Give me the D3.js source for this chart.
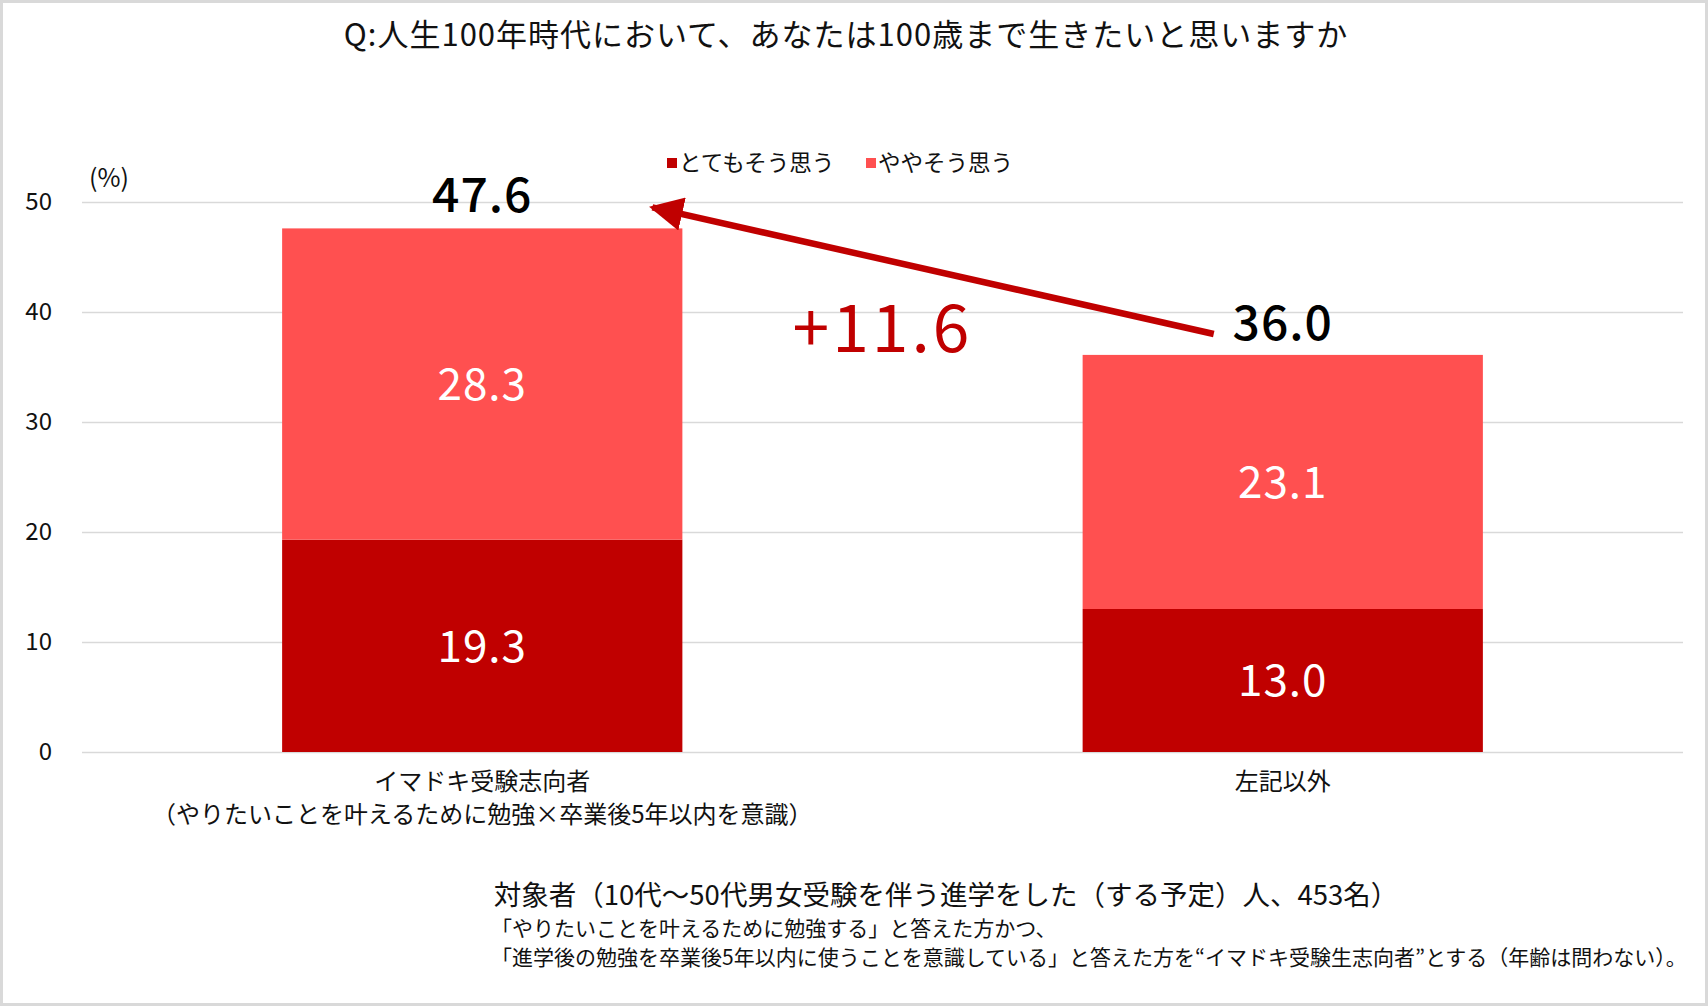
<!DOCTYPE html>
<html>
<head>
<meta charset="utf-8">
<script src="https://cdn.jsdelivr.net/npm/d3@7"></script>
<style>
  body { margin: 0; background: #fff; }
  svg { display: block; font-family: "Noto Sans CJK JP", "Noto Sans", sans-serif; }
</style>
</head>
<body>
<div id="chartContainer"></div>
<script>
// Chart data
const categories = ["イマドキ受験志向者", "左記以外"];
const categorySubLabels = ["（やりたいことを叶えるために勉強×卒業後5年以内を意識）", ""];
const seriesNames = ["とてもそう思う", "ややそう思う"];
const stronglyAgree = [19.3, 13.0];
const somewhatAgree = [28.3, 23.1];
const totals = [47.6, 36.0];
const diffLabel = "+11.6";
const yTicks = [0, 10, 20, 30, 40, 50];
const titleText = "Q:人生100年時代において、あなたは100歳まで生きたいと思いますか";
const footerText = "対象者（10代～50代男女受験を伴う進学をした（する予定）人、453名）";
const noteLines = [
    "「やりたいことを叶えるために勉強する」と答えた方かつ、",
    "「進学後の勉強を卒業後5年以内に使うことを意識している」と答えた方を“イマドキ受験生志向者”とする（年齢は問わない）。"
];

function createChart() {
    const width = 1708;
    const height = 1007;
    const marginTop = 202;
    const marginRight = 25;
    const marginBottom = 255;
    const marginLeft = 82;
    const colors = ["#C00000", "#FF5050"];

    const x = d3.scaleBand()
        .domain(categories)
        .range([marginLeft, width - marginRight])
        .paddingInner(0.5)
        .paddingOuter(0.25);

    const y = d3.scaleLinear()
        .domain([0, 50])
        .range([height - marginBottom, marginTop]);

    const svg = d3.create("svg")
        .attr("viewBox", [0, 0, width, height])
        .attr("width", width)
        .attr("height", height);

    // outer frame
    svg.append("rect")
        .attr("x", 1.5).attr("y", 1.5)
        .attr("width", width - 3).attr("height", height - 4)
        .attr("fill", "#fff")
        .attr("stroke", "#d9d9d9")
        .attr("stroke-width", 3);

    // title
    svg.append("text")
        .attr("x", 846).attr("y", 46)
        .attr("text-anchor", "middle")
        .attr("font-size", 31)
        .attr("letter-spacing", 1)
        .attr("fill", "#111")
        .text(titleText);

    // y axis with gridlines
    svg.append("g")
        .attr("transform", `translate(${marginLeft},0)`)
        .call(d3.axisLeft(y).tickValues(yTicks).tickSize(-(width - marginLeft - marginRight)).tickPadding(30))
        .call(g => g.select(".domain").remove())
        .call(g => g.selectAll(".tick line").attr("stroke", "#d9d9d9").attr("stroke-width", 1.5))
        .call(g => g.selectAll(".tick text")
            .attr("font-size", 24)
            .attr("fill", "#111")
            .attr("font-family", "\"Noto Sans CJK JP\", sans-serif"));

    svg.append("text")
        .attr("x", 109).attr("y", 187)
        .attr("text-anchor", "middle")
        .attr("font-size", 25)
        .attr("fill", "#111")
        .text("(%)");

    // stacked bars
    const rows = categories.map((c, i) => ({ category: c, strongly: stronglyAgree[i], somewhat: somewhatAgree[i] }));
    const stack = d3.stack().keys(["strongly", "somewhat"])(rows);

    const layers = svg.append("g")
        .selectAll("g")
        .data(stack)
        .join("g")
        .attr("fill", (d, i) => colors[i]);

    layers.selectAll("rect")
        .data(d => d)
        .join("rect")
        .attr("x", d => x(d.data.category))
        .attr("y", d => y(d[1]))
        .attr("height", d => y(d[0]) - y(d[1]))
        .attr("width", x.bandwidth());

    // segment labels
    layers.selectAll("text")
        .data(d => d.map(v => ({ v, key: d.key })))
        .join("text")
        .attr("x", d => x(d.v.data.category) + x.bandwidth() / 2)
        .attr("y", d => (y(d.v[0]) + y(d.v[1])) / 2)
        .attr("dy", "0.36em")
        .attr("text-anchor", "middle")
        .attr("font-size", 44)
        .attr("letter-spacing", 1)
        .attr("fill", "#fff")
        .text(d => d.v.data[d.key].toFixed(1));

    // totals
    svg.append("g")
        .selectAll("text")
        .data(categories)
        .join("text")
        .attr("x", d => x(d) + x.bandwidth() / 2)
        .attr("y", (d, i) => y(totals[i]) - 16)
        .attr("text-anchor", "middle")
        .attr("font-size", 48)
        .attr("font-weight", 500)
        .attr("letter-spacing", 1)
        .attr("fill", "#000")
        .text((d, i) => totals[i].toFixed(1));

    // difference arrow
    svg.append("defs").append("marker")
        .attr("id", "arrowHead")
        .attr("viewBox", "0 0 10 10")
        .attr("refX", 9).attr("refY", 5)
        .attr("markerWidth", 5.2).attr("markerHeight", 5.2)
        .attr("markerUnits", "strokeWidth")
        .attr("orient", "auto")
        .append("path")
        .attr("d", "M0,0 L10,5 L0,10 Z")
        .attr("fill", colors[0]);

    svg.append("line")
        .attr("x1", x(categories[1]) + x.bandwidth() / 2 - 69)
        .attr("y1", y(totals[1]) - 22)
        .attr("x2", x(categories[0]) + x.bandwidth() - 30)
        .attr("y2", y(totals[0]) - 21)
        .attr("stroke", colors[0])
        .attr("stroke-width", 6.5)
        .attr("marker-end", "url(#arrowHead)");

    svg.append("text")
        .attr("x", (x(categories[0]) + x.bandwidth() + x(categories[1])) / 2)
        .attr("y", y(totals[1]) - 4)
        .attr("text-anchor", "middle")
        .attr("font-size", 66)
        .attr("letter-spacing", 3)
        .attr("fill", colors[0])
        .text(diffLabel);

    // x axis labels
    const xLabels = svg.append("g")
        .selectAll("text")
        .data(categories)
        .join("text")
        .attr("x", d => x(d) + x.bandwidth() / 2)
        .attr("text-anchor", "middle")
        .attr("font-size", 24)
        .attr("fill", "#111");
    xLabels.append("tspan").attr("x", d => x(d) + x.bandwidth() / 2).attr("y", 790).text(d => d);
    xLabels.append("tspan").attr("x", d => x(d) + x.bandwidth() / 2).attr("y", 823)
        .text((d, i) => categorySubLabels[i]);

    // legend
    const legend = svg.append("g").attr("transform", "translate(667,163)");
    const legendOffsets = [0, 199];
    seriesNames.forEach((name, i) => {
        const g = legend.append("g").attr("transform", `translate(${legendOffsets[i]},0)`);
        g.append("rect").attr("x", 0).attr("y", -5).attr("width", 10).attr("height", 10).attr("fill", colors[i]);
        g.append("text").attr("x", 12).attr("y", 0).attr("dy", "0.36em")
            .attr("font-size", 22.5).attr("fill", "#111").text(name);
    });

    // footer
    svg.append("text")
        .attr("x", 946).attr("y", 905)
        .attr("text-anchor", "middle")
        .attr("font-size", 27.5)
        .attr("fill", "#111")
        .text(footerText);

    svg.append("g")
        .selectAll("text")
        .data(noteLines)
        .join("text")
        .attr("x", 491)
        .attr("y", (d, i) => 936 + i * 29)
        .attr("font-size", 21)
        .attr("fill", "#111")
        .text(d => d);

    return svg.node();
}

document.getElementById("chartContainer").appendChild(createChart());
</script>
</body>
</html>
